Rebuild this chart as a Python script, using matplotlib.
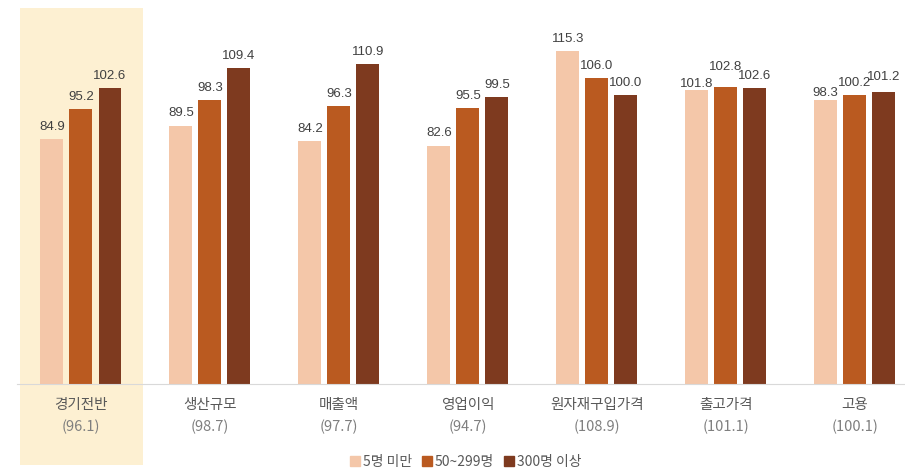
import matplotlib
matplotlib.use("Agg")
import matplotlib.pyplot as plt
import matplotlib.transforms as mtransforms
from matplotlib.patches import Rectangle
import numpy as np

plt.rcParams['font.family'] = ['Noto Sans CJK KR', 'DejaVu Sans']

categories = ['경기전반', '생산규모', '매출액', '영업이익', '원자재구입가격', '출고가격', '고용']
totals = ['96.1', '98.7', '97.7', '94.7', '108.9', '101.1', '100.1']
series_names = ['5명 미만', '50~299명', '300명 이상']
small = [84.9, 89.5, 84.2, 82.6, 115.3, 101.8, 98.3]
mid = [95.2, 98.3, 96.3, 95.5, 106.0, 102.8, 100.2]
large = [102.6, 109.4, 110.9, 99.5, 100.0, 102.6, 101.2]
colors = ['#F4C7A9', '#BA5A20', '#7E3A1F']

# label nudges (points) where labels crowd, (series, category) -> dy
nudge = {(0, 5): -4.5, (1, 5): 5.5, (2, 5): -0.5,
         (0, 6): -3.5, (2, 6): 2.0}

fig = plt.figure(figsize=(9.05, 4.73), dpi=100)
H = 473.0
base_px = 383.6
ax = fig.add_axes([17 / 905, 1 - base_px / H, 888 / 905, base_px / H])
ax.set_xlim(-0.496, 6.39)
ax.set_ylim(0, 133.1)

x = np.arange(len(categories))
w = 0.178
step = 0.225
for i, (vals, c) in enumerate(zip([small, mid, large], colors)):
    xs = x + (i - 1) * step
    ax.bar(xs, vals, width=w, color=c, label=series_names[i], zorder=3)
    for j, (xx, v) in enumerate(zip(xs, vals)):
        dy = 4.5 + nudge.get((i, j), 0)
        ax.annotate(f'{v:.1f}', (xx, v), xytext=(0, dy), textcoords='offset points',
                    ha='center', va='bottom', fontsize=9.5, color='#404040',
                    family='Liberation Sans', zorder=4)

# highlight first group
tr = mtransforms.blended_transform_factory(ax.transData, ax.transAxes)
ax.add_patch(Rectangle((-0.473, -0.212), 0.954, 1.191, transform=tr,
                       facecolor='#FDF0D2', edgecolor='none', clip_on=False, zorder=0))

for s in ['top', 'right', 'left']:
    ax.spines[s].set_visible(False)
ax.spines['bottom'].set_color('#D9D9D9')
ax.spines['bottom'].set_zorder(5)
ax.set_yticks([])
ax.set_xticks([])
ax.patch.set_alpha(0)

for xi, cat, t in zip(x, categories, totals):
    ax.text(xi, -0.055, cat, transform=tr, ha='center', va='center',
            fontsize=10.5, color='#595959')
    ax.text(xi, -0.112, f'({t})', transform=tr, ha='center', va='center',
            fontsize=10.5, color='#7F7F7F')

handles = [plt.Line2D([], [], marker='s', linestyle='none', markersize=6.5,
                      markerfacecolor=c, markeredgecolor=c) for c in colors]
fig.legend(handles, series_names, loc='center', bbox_to_anchor=(0.515, 0.024),
           ncol=3, frameon=False, fontsize=10, handletextpad=0.25,
           columnspacing=0.8, labelcolor='#595959', handlelength=0.6)

fig.savefig('out.png', dpi=100)
